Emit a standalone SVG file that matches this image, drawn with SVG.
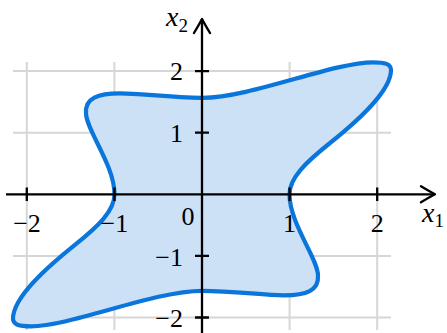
<svg xmlns="http://www.w3.org/2000/svg" width="447" height="333" viewBox="0 0 447 333">
<defs>
<marker id="arr" markerUnits="userSpaceOnUse" markerWidth="24" markerHeight="24" refX="0" refY="0" viewBox="-16 -12 20 24" orient="auto" overflow="visible">
<path d="M -14 -8 Q -4 -2 0 0 Q -4 2 -14 8" fill="none" stroke="#000" stroke-width="2.4" stroke-linecap="round" stroke-linejoin="round"/>
</marker>
<style>
.grid{stroke:#d6d6d6;stroke-width:2;fill:none}
.axis{stroke:#000;stroke-width:2.3;fill:none}
.tick{stroke:#000;stroke-width:2.3}
.lbl{font-family:"Liberation Serif","DejaVu Serif",serif;font-size:26px;fill:#000}
.var{font-family:"Liberation Serif","DejaVu Serif",serif;font-style:italic;font-size:28px;fill:#000}
.sub{font-family:"Liberation Serif","DejaVu Serif",serif;font-size:19px;fill:#000}
.region{fill:#cce1f5;stroke:#0a75da;stroke-width:4.2;stroke-linejoin:round}
</style>
</defs>
<g id="grid">
<path class="grid" d="M26.8 62V330M114.4 62V330M289.6 62V330M377.2 62V330M13 71.1H391M13 132.7H391M13 255.9H391M13 317.5H391"/>
</g>
<g id="region">
<path class="region" d="M289.5 194.3 C289.5 178 305 163 330 143 C355 123 391 92 391 70 C391 64 385 62.3 373 62.3 C333 62.3 250 98 202 97.8 C170 97.6 140 93.3 120 93.3 C98 93.3 85 98 86 113 C86 130 114.5 165 114.5 194.3 C114.5 210.6 99 225.6 74 245.6 C49 265.6 13 296.6 13 318.6 C13 324.6 19 326.3 31 326.3 C71 326.3 154 290.8 202 290.8 C234 291 264 295.3 284 295.3 C306 295.3 319 290.6 318 275.6 C318 258.6 289.5 223.6 289.5 194.3 Z"/>
</g>
<g id="connectors">
<path class="axis" d="M6 194.3H435" marker-end="url(#arr)"/>
<path class="axis" d="M202 333V19" marker-end="url(#arr)"/>
<path class="tick" d="M26.8 187.5V201M114.4 187.5V201M289.6 187.5V201M377.2 187.5V201M195 71.1H209M195 132.7H209M195 255.9H209M195 317.5H209"/>
</g>
<g id="labels">
<text class="lbl" x="27" y="232" text-anchor="middle">−2</text>
<text class="lbl" x="114.4" y="232" text-anchor="middle">−1</text>
<text class="lbl" x="289.6" y="232" text-anchor="middle">1</text>
<text class="lbl" x="377.2" y="232" text-anchor="middle">2</text>
<text class="lbl" x="188" y="225" text-anchor="middle">0</text>
<text class="lbl" x="183" y="80" text-anchor="end">2</text>
<text class="lbl" x="183" y="141.5" text-anchor="end">1</text>
<text class="lbl" x="183" y="266" text-anchor="end">−1</text>
<text class="lbl" x="183" y="326.5" text-anchor="end">−2</text>
<text x="422" y="222"><tspan class="var">x</tspan><tspan class="sub" dy="5">1</tspan></text>
<text x="166" y="26"><tspan class="var">x</tspan><tspan class="sub" dy="6">2</tspan></text>
</g>
</svg>
